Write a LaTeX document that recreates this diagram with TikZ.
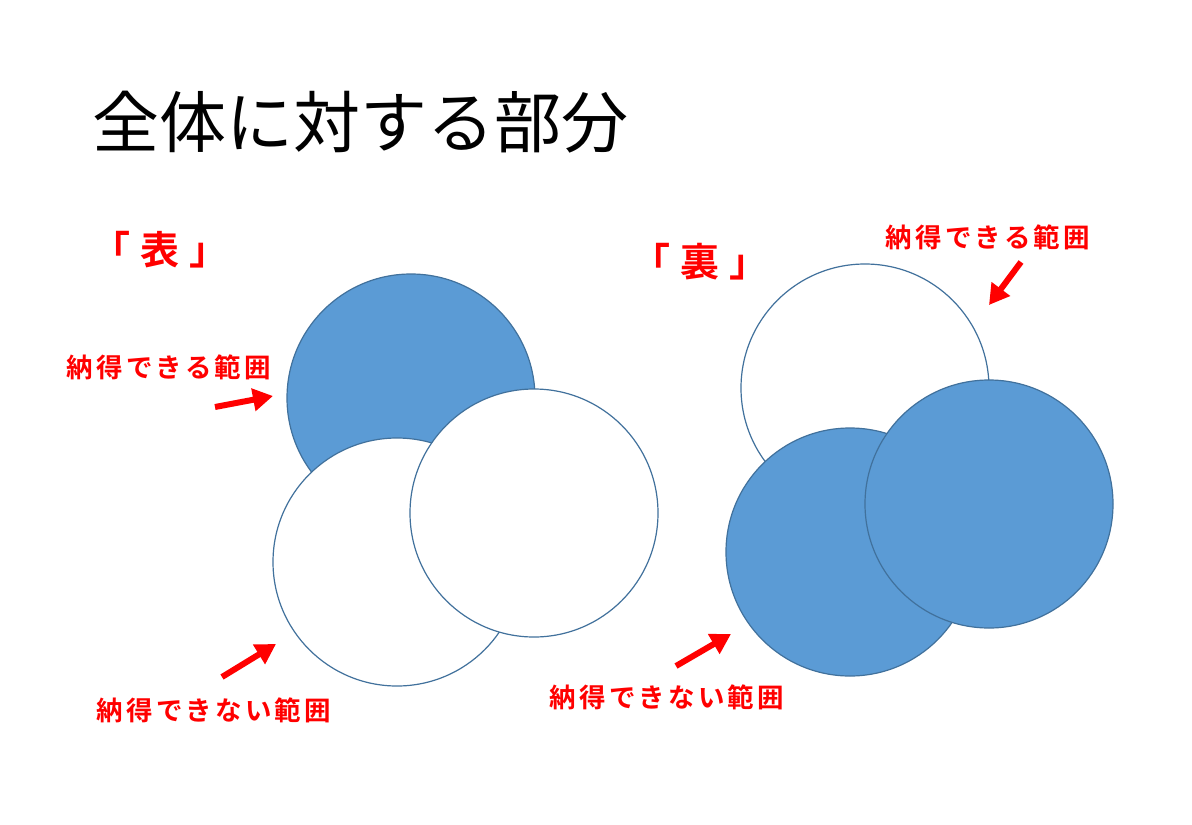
\documentclass[tikz,border=0pt]{standalone}
\usepackage{fontspec}
\usetikzlibrary{arrows.meta}
\newfontfamily\jpfont{Noto Sans CJK JP}
\newfontfamily\jpbold[LetterSpace=12]{Noto Sans CJK JP Bold}
\newfontfamily\jpboldtight{Noto Sans CJK JP Bold}
\definecolor{fillblue}{HTML}{5B9BD5}
\definecolor{edgeblue}{HTML}{41719C}
\definecolor{lblred}{HTML}{FF0000}
\tikzset{
  disc/.style={circle, draw=edgeblue, line width=1.2pt, minimum size=248pt, inner sep=0pt},
  bluedisc/.style={disc, fill=fillblue},
  whitedisc/.style={disc, fill=white},
  lbl/.style={text=lblred, font=\jpbold\fontsize{26.5}{26.5}\selectfont, inner sep=0pt},
  side/.style={text=lblred, font=\jpboldtight\fontsize{39}{39}\selectfont, inner sep=0pt},
  redarrow/.style={draw=lblred, line width=6pt, -{Triangle[length=20pt,width=22pt]}}
}
\begin{document}
\begin{tikzpicture}[x=1pt,y=-1pt]
\useasboundingbox (0,0) rectangle (1192,825);
\fill[white] (0,0) rectangle (1192,825);
% title
\node[anchor=west, inner sep=0pt, font=\jpfont\fontsize{67}{67}\selectfont] (title) at (92,122) {全体に対する部分};
% side labels
\node[side] (omote) at (160,250) {「\kern10pt 表\kern10pt 」};
\node[side] (ura) at (700,262) {「\kern10pt 裏\kern10pt 」};
% left figure
\node[bluedisc] (lA) at (411,398) {};
\node[whitedisc] (lB) at (397,562) {};
\node[whitedisc] (lC) at (534,513) {};
% right figure
\node[whitedisc] (rA) at (865,388) {};
\node[bluedisc] (rB) at (850,552) {};
\node[bluedisc] (rC) at (989,504) {};
% labels
\node[lbl] (l1) at (169,367) {納得できる範囲};
\node[lbl] (l2) at (214,710) {納得できない範囲};
\node[lbl] (r1) at (988,237) {納得できる範囲};
\node[lbl] (r2) at (667,697) {納得できない範囲};
% arrows
\coordinate (a1s) at (215,407); \coordinate (a1e) at (273,396);
\coordinate (a2s) at (222,677); \coordinate (a2e) at (276,644);
\coordinate (a3s) at (676,666); \coordinate (a3e) at (731,634);
\coordinate (a4s) at (1021,262); \coordinate (a4e) at (989,305);
\draw[redarrow] (a1s) -- (a1e);
\draw[redarrow] (a2s) -- (a2e);
\draw[redarrow] (a3s) -- (a3e);
\draw[redarrow] (a4s) -- (a4e);
\end{tikzpicture}
\end{document}
